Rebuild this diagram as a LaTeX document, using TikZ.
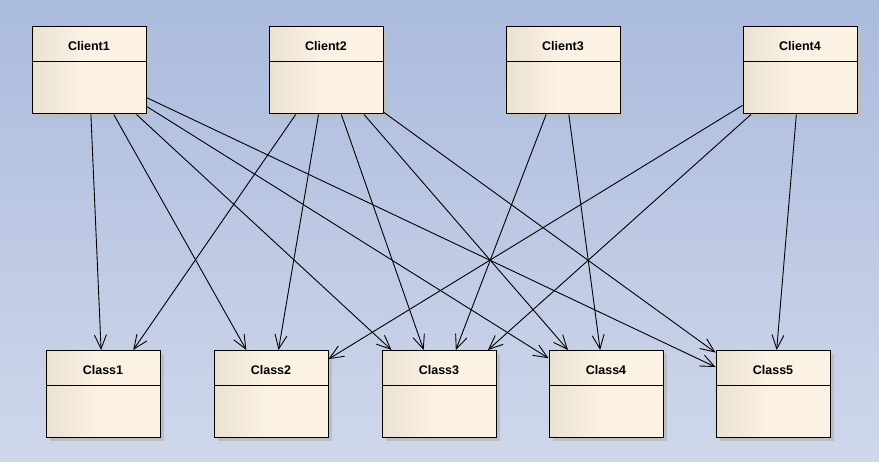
\documentclass[tikz,border=0pt]{standalone}
\usepackage{fontspec}
\setmainfont{Liberation Sans}
\usetikzlibrary{arrows.meta,shadows}
\definecolor{bgtop}{RGB}{171,187,221}
\definecolor{bgbottom}{RGB}{207,215,235}
\definecolor{boxl}{RGB}{233,225,210}
\definecolor{boxr}{RGB}{251,242,228}
\definecolor{boxshadow}{RGB}{190,190,192}
\pgfdeclarehorizontalshading{boxfill}{100bp}{color(0bp)=(boxl); color(25bp)=(boxl); color(48bp)=(boxr); color(100bp)=(boxr)}
\tikzset{
	umlbox/.style={draw=black, line width=1pt, shading=boxfill, minimum width=114pt, minimum height=87pt, inner sep=0pt, text height=24pt, text depth=63pt, font=\fontsize{12.5}{15}\selectfont\bfseries, drop shadow={shadow xshift=4pt, shadow yshift=-4pt, opacity=1, fill=boxshadow}, path picture={\draw[line width=1pt] ([yshift=-35pt]path picture bounding box.north west) -- ([yshift=-35pt]path picture bounding box.north east);}},
	dep/.style={line width=0.9pt, -{Straight Barb[length=14pt, width=12pt, line width=0.9pt]}}
}
\begin{document}
\begin{tikzpicture}[x=1pt, y=-1pt]
	\fill[top color=bgtop, bottom color=bgbottom] (0,0) rectangle (879,462);
	\node[umlbox] (client1) at (89,70.5) {Client1};
	\node[umlbox] (client2) at (326,70.5) {Client2};
	\node[umlbox] (client3) at (563,70.5) {Client3};
	\node[umlbox] (client4) at (800,70.5) {Client4};
	\node[umlbox] (class1) at (103,394) {Class1};
	\node[umlbox] (class2) at (271,394) {Class2};
	\node[umlbox] (class3) at (439,394) {Class3};
	\node[umlbox] (class4) at (606,394) {Class4};
	\node[umlbox] (class5) at (773,394) {Class5};
	\foreach \c in {1,...,5} {
		\draw[dep] (client1) -- (class\c);
		\draw[dep] (client2) -- (class\c);
	}
	\draw[dep] (client3) -- (class3);
	\draw[dep] (client3) -- (class4);
	\draw[dep] (client4) -- (class2);
	\draw[dep] (client4) -- (class3);
	\draw[dep] (client4) -- (class5);
\end{tikzpicture}
\end{document}
